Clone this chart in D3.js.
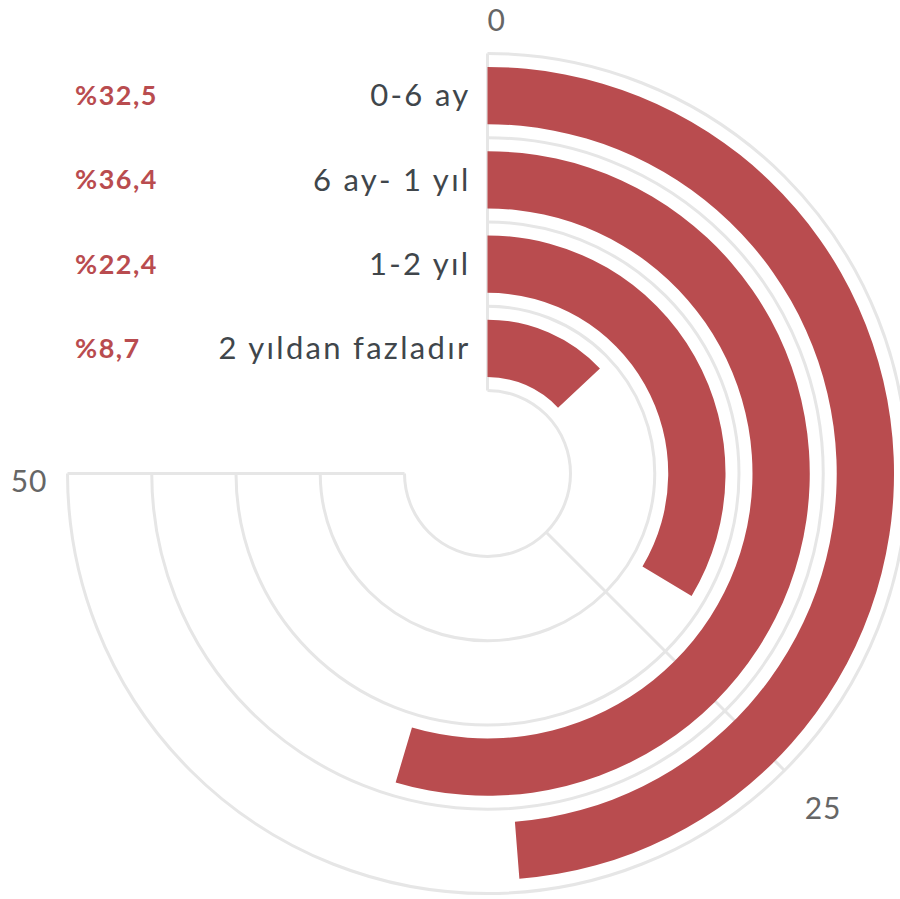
<!DOCTYPE html>
<html>
<head>
<meta charset="utf-8">
<script src="https://cdn.jsdelivr.net/npm/d3@7"></script>
<style>
  body { margin: 0; background: #fff; }
  svg { display: block; font-family: Lato, "Open Sans", sans-serif; }
</style>
</head>
<body>
<div id="chart"></div>
<script>
const WIDTH = 900;
const HEIGHT = 899;
const CX = 487.5, CY = 473.5;
const INNER_R = 83, OUTER_R = 420;
const BAR_COLOR = "#b94c4f";
const GRID_COLOR = "#e6e6e6";

// data
const categories = ["0-6 ay", "6 ay- 1 yıl", "1-2 yıl", "2 yıldan fazladır"];
const values = [32.5, 36.4, 22.4, 8.7];
const valueLabels = ["%32,5", "%36,4", "%22,4", "%8,7"];
const tickValues = [0, 25, 50];
const maxValue = 50;

const svg = d3.select("#chart")
    .append("svg")
    .attr("width", WIDTH)
    .attr("height", HEIGHT);

const g = svg.append("g").attr("transform", `translate(${CX},${CY})`);

// scales
const angle = d3.scaleLinear().domain([0, maxValue]).range([0, 1.5 * Math.PI]);
const ring = d3.scaleBand().domain(categories).range([OUTER_R, INNER_R]);
const barPad = 0.16;

const arc = d3.arc();

// grid arcs at ring boundaries
const boundaries = categories.map(c => ring(c)).concat([OUTER_R]);
g.append("g")
    .selectAll("path")
    .data(boundaries)
    .enter()
    .append("path")
    .attr("d", r => arc({innerRadius: r, outerRadius: r, startAngle: 0, endAngle: angle(maxValue)}))
    .attr("fill", "none")
    .attr("stroke", GRID_COLOR)
    .attr("stroke-width", 3);

// radial grid lines
g.append("g")
    .selectAll("line")
    .data(tickValues)
    .enter()
    .append("line")
    .attr("x1", d => INNER_R * Math.sin(angle(d)))
    .attr("y1", d => -INNER_R * Math.cos(angle(d)))
    .attr("x2", d => OUTER_R * Math.sin(angle(d)))
    .attr("y2", d => -OUTER_R * Math.cos(angle(d)))
    .attr("stroke", GRID_COLOR)
    .attr("stroke-width", 3);

// bars
g.append("g")
    .selectAll("path")
    .data(categories)
    .enter()
    .append("path")
    .attr("d", (c, i) => {
        const r0 = ring(c), bw = ring.bandwidth();
        return arc({
            innerRadius: r0 + bw * barPad,
            outerRadius: r0 + bw * (1 - barPad),
            startAngle: 0,
            endAngle: angle(values[i])
        });
    })
    .attr("fill", BAR_COLOR);

// category labels
g.append("g")
    .selectAll("text")
    .data(categories)
    .enter()
    .append("text")
    .attr("x", -17)
    .attr("y", c => -(ring(c) + ring.bandwidth() / 2))
    .attr("dy", "0.35em")
    .attr("text-anchor", "end")
    .attr("fill", "#40464b")
    .style("font-size", "31px")
    .style("letter-spacing", "2.3px")
    .text(c => c);

// value labels
svg.append("g")
    .selectAll("text")
    .data(categories)
    .enter()
    .append("text")
    .attr("x", 75)
    .attr("y", c => CY - (ring(c) + ring.bandwidth() / 2))
    .attr("dy", "0.35em")
    .attr("fill", BAR_COLOR)
    .style("font-size", "27px")
    .style("font-weight", "bold")
    .style("letter-spacing", "1.5px")
    .text((c, i) => valueLabels[i]);

// angular axis labels
const LABEL_R = OUTER_R + 20;
g.append("g")
    .selectAll("text")
    .data(tickValues)
    .enter()
    .append("text")
    .attr("x", d => LABEL_R * Math.sin(angle(d)))
    .attr("y", d => -LABEL_R * Math.cos(angle(d)))
    .attr("text-anchor", d => Math.sin(angle(d)) < -0.3 ? "end" : "start")
    .attr("dx", d => Math.sin(angle(d)) > 0.3 ? "0.2em" : "0")
    .attr("dy", d => {
        const c = Math.cos(angle(d));
        return c > 0.3 ? "-0.1em" : c < -0.3 ? "1.15em" : "0.6em";
    })
    .attr("fill", "#666")
    .style("font-size", "30px")
    .style("letter-spacing", "1px")
    .text(d => d);
</script>
</body>
</html>
